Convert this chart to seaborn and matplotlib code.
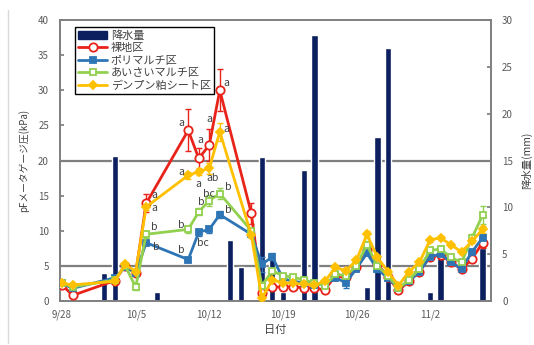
import numpy as np
import pandas as pd
import matplotlib
matplotlib.use("Agg")
import matplotlib.pyplot as plt
from matplotlib.lines import Line2D
from matplotlib.patches import Patch
import seaborn as sns

sns.set_theme(style="white")
plt.rcParams["font.family"] = ["Noto Sans CJK JP", "DejaVu Sans"]

# days counted from 9/28
days = [0, 1, 5, 6, 7, 8, 12, 13, 14, 15, 18,
        19, 20, 21, 22, 23, 24, 25, 26, 27, 28, 29, 30,
        31, 32, 33, 34, 35, 36, 37, 38, 39, 40]

bare = [2.3, 0.8, 2.9, 5.0, 4.0, 13.9, 24.3, 20.3, 22.2, 30.0, 12.5,
        1.2, 2.0, 2.0, 2.0, 1.9, 1.8, 1.6, 3.6, 3.4, 4.8, 7.2, 5.3,
        3.4, 1.5, 2.8, 4.2, 6.3, 6.5, 5.6, 4.5, 6.0, 8.3]
poly = [2.5, 1.8, 3.3, 4.8, 4.0, 8.3, 5.9, 9.8, 10.2, 12.3, 9.5,
        5.2, 6.3, 3.2, 2.8, 2.6, 2.3, 2.4, 3.3, 2.6, 4.6, 6.8, 4.5,
        3.3, 1.8, 2.8, 4.2, 6.3, 6.7, 5.5, 4.6, 7.0, 9.0]
aisai = [2.5, 2.0, 3.0, 5.0, 2.0, 9.5, 10.2, 12.7, 14.3, 15.3, 10.0,
         2.2, 4.3, 3.6, 3.4, 3.0, 2.6, 2.2, 3.8, 3.6, 5.0, 8.0, 5.0,
         3.6, 1.8, 3.0, 4.6, 7.2, 7.4, 6.2, 5.5, 9.0, 12.2]
starch = [2.5, 2.3, 2.8, 5.2, 4.2, 13.4, 17.9, 18.4, 18.9, 24.1, 9.4,
          0.4, 3.0, 2.6, 2.5, 2.4, 2.3, 2.8, 4.8, 4.3, 5.8, 9.5, 6.2,
          4.2, 2.2, 4.2, 5.5, 8.7, 9.0, 8.0, 7.0, 8.5, 10.2]

bare_err = [0.3, 0.3, 0.3, 0.3, 0.3, 1.3, 3.0, 1.5, 2.3, 3.0, 1.5,
            0.3, 0.3, 0.3, 0.3, 0.3, 0.3, 0.3, 0.3, 0.3, 0.3, 0.5, 0.3,
            0.3, 0.3, 0.3, 0.3, 0.5, 0.5, 0.3, 0.3, 0.5, 0.8]
poly_err = [0.3, 0.3, 0.3, 0.3, 0.3, 0.3, 0.3, 0.5, 0.5, 0.5, 0.3,
            1.0, 0.5, 0.3, 0.3, 0.3, 0.3, 0.3, 0.3, 0.8, 0.3, 0.3, 0.3,
            0.3, 0.3, 0.3, 0.3, 0.3, 0.3, 0.3, 0.3, 0.3, 0.5]
aisai_err = [0.3, 0.3, 0.3, 0.3, 0.5, 0.5, 0.5, 0.5, 0.8, 0.8, 0.3,
             0.3, 0.3, 0.3, 0.3, 0.3, 0.3, 0.3, 0.3, 0.3, 0.3, 0.5, 0.3,
             0.3, 0.3, 0.3, 0.3, 0.3, 0.3, 0.3, 0.3, 0.5, 1.3]
starch_err = [0.3, 0.3, 0.3, 0.3, 0.3, 0.5, 0.5, 0.5, 0.8, 1.3, 0.5,
              0.3, 0.3, 0.3, 0.3, 0.3, 0.3, 0.3, 0.3, 0.3, 0.3, 0.5, 0.3,
              0.3, 0.3, 0.3, 0.3, 0.3, 0.3, 0.3, 0.3, 0.3, 0.5]

rain_days = [4, 5, 9, 16, 17, 19, 20, 21, 23, 24, 29, 30, 31, 35, 36, 40]
rain_mm = [3.0, 15.5, 1.0, 6.5, 3.6, 15.4, 5.1, 1.0, 14.0, 28.4, 1.5, 17.5, 27.0, 1.0, 5.0, 5.7]

tick_days = [0, 7, 14, 21, 28, 35]
tick_labels = ["9/28", "10/5", "10/12", "10/19", "10/26", "11/2"]

labels = ["降水量", "裸地区", "ポリマルチ区", "あいさいマルチ区", "デンプン粕シート区"]

# significance letters: (series, day, letter, x offset pt, y offset pt)
letters = [
    ("bare", 8, "a", 6, 6), ("starch", 8, "a", 6, -1), ("aisai", 8, "b", 6, 5), ("poly", 8, "b", 7, -3),
    ("bare", 12, "a", -5, 5), ("starch", 12, "a", -5, 2.5), ("aisai", 12, "b", -5, 3), ("poly", 12, "b", -5, 7),
    ("bare", 13, "a", 1, 13), ("starch", 13, "a", 0, -8.5), ("aisai", 13, "b", 1.5, 7), ("poly", 13, "bc", 3, -8),
    ("bare", 14, "a", 0, 19), ("starch", 14, "ab", 2.5, -7), ("aisai", 14, "bc", 0, 5),
    ("bare", 15, "a", 5, 5), ("starch", 15, "a", 4.5, 2), ("aisai", 15, "b", 6, 5), ("poly", 15, "b", 6, 3),
]

NAVY = "#0C1F5E"
RED = "#E8231A"
BLUE = "#2E75B6"
GREEN = "#92D050"
YELLOW = "#FFC000"
GRAY = "#7F7F7F"

series = {
    "bare": dict(y=bare, err=bare_err, color=RED, marker="o", mfc="white", ms=6),
    "poly": dict(y=poly, err=poly_err, color=BLUE, marker="s", mfc=BLUE, ms=5),
    "aisai": dict(y=aisai, err=aisai_err, color=GREEN, marker="s", mfc="white", ms=5),
    "starch": dict(y=starch, err=starch_err, color=YELLOW, marker="D", mfc=YELLOW, ms=4.5),
}

fig = plt.figure(figsize=(5.34, 3.45), dpi=100)
ax = fig.add_axes([0.1124, 0.1275, 0.807, 0.8145])

# rainfall bars (drawn underneath, right-hand scale)
sns.barplot(x=rain_days, y=rain_mm, native_scale=True, ax=ax, color=NAVY,
            saturation=1, width=0.6, errorbar=None, zorder=2)

axl = ax.twinx()
axl.yaxis.tick_left()
axl.yaxis.set_label_position("left")
axl.set_ylim(0, 40)
axl.set_yticks(np.arange(0, 41, 5))

ax.set_ylim(0, 30)
ax.set_yticks(np.arange(0, 31, 5))
ax.yaxis.tick_right()
ax.yaxis.set_label_position("right")
ax.set_ylabel("降水量(mm)", fontsize=7.5, color="#404040", labelpad=6)

# reference lines at 5 and 20 kPa, kept beneath the bars
for level in (5, 20):
    ax.plot([0, 1], [level, level], transform=axl.get_yaxis_transform(),
            color=GRAY, lw=1.6, zorder=1)

for name, s in series.items():
    axl.errorbar(days, s["y"], yerr=s["err"], fmt="none", ecolor=s["color"],
                 elinewidth=1, capsize=2, capthick=1, zorder=3)
    sns.lineplot(x=days, y=s["y"], ax=axl, color=s["color"], lw=2,
                 marker=s["marker"], markersize=s["ms"], markerfacecolor=s["mfc"],
                 markeredgecolor=s["color"], markeredgewidth=1.3,
                 errorbar=None, zorder=4)

lookup = {name: dict(zip(days, s["y"])) for name, s in series.items()}
for name, d, txt, dx, dy in letters:
    axl.annotate(txt, xy=(d, lookup[name][d]), xytext=(dx, dy),
                 textcoords="offset points", ha="center", va="center",
                 fontsize=7.5, color="#404040", zorder=5)

ax.set_xlim(-0.2, 40.8)
ax.set_xticks(tick_days)
ax.set_xticklabels(tick_labels)
ax.set_xlabel("日付", fontsize=8, color="#404040", loc="center")
axl.set_ylabel("pFメータゲージ圧(kPa)", fontsize=7, color="#404040", labelpad=6)

for a in (ax, axl):
    a.tick_params(axis="y", direction="in", length=3, labelsize=7, colors=GRAY,
                  labelcolor="#595959", pad=8)
    a.tick_params(axis="x", length=0, labelsize=7, labelcolor="#595959", pad=6)
    for sp in a.spines.values():
        sp.set_color(GRAY)
        sp.set_linewidth(1.2)

handles = [Patch(facecolor=NAVY, edgecolor=NAVY)]
for name in ["bare", "poly", "aisai", "starch"]:
    s = series[name]
    handles.append(Line2D([], [], color=s["color"], lw=2, marker=s["marker"],
                          markersize=s["ms"], markerfacecolor=s["mfc"],
                          markeredgecolor=s["color"], markeredgewidth=1.3))
leg = axl.legend(handles, labels, loc="upper left", bbox_to_anchor=(0.035, 0.975),
                 fontsize=8, frameon=True, fancybox=False, framealpha=1,
                 edgecolor="black", handlelength=2.6, handletextpad=0.3,
                 labelspacing=0.22, borderpad=0.3, borderaxespad=0)
leg.get_frame().set_linewidth(1.0)
for t in leg.get_texts():
    t.set_color("#404040")

# thin outer frame of the chart area
fig.add_artist(plt.Line2D([0.015, 0.015], [0.005, 0.97], transform=fig.transFigure,
                          color="#D9D9D9", lw=1))

fig.savefig("out.png", dpi=100)
